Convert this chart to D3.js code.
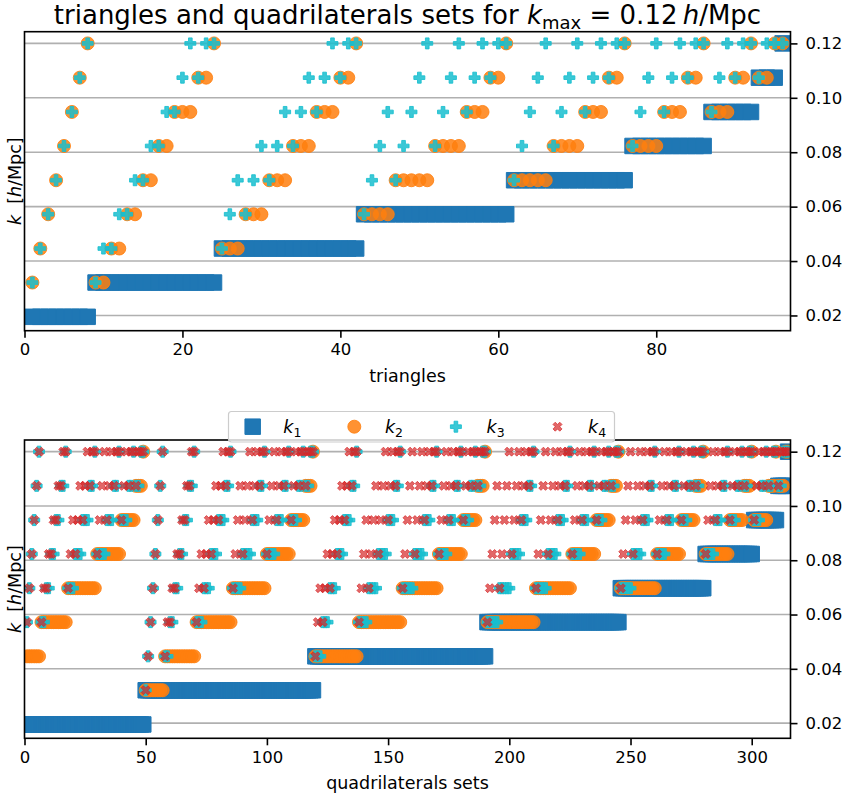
<!DOCTYPE html>
<html lang="en">
<head>
<meta charset="UTF-8">
<title>triangles and quadrilaterals sets</title>
<script src="https://d3js.org/d3.v7.min.js"></script>
<style>
  body { margin: 0; background: #fff; }
  svg { display: block; font-family: "DejaVu Sans", sans-serif; }
</style>
</head>
<body>
<svg id="chart" width="843" height="793"></svg>
<script>
// k bins (h/Mpc), series below hold bin indices into this list
const kBins = [0.0195, 0.0321, 0.0446, 0.0572, 0.0697, 0.0823, 0.0948, 0.1074, 0.1200];

const yTicks = [0.02, 0.04, 0.06, 0.08, 0.10, 0.12];
const triTicks = [0, 20, 40, 60, 80];
const quadTicks = [0, 50, 100, 150, 200, 250, 300];

// triangles (k1 <= k2 <= k3)
const triK1 = [
  0,0,0,0,0, 0,0,0,0,
  1,1,1,1,1, 1,1,1,1,1, 1,1,1,1,1, 1,
  2,2,2,2,2, 2,2,2,2,2, 2,2,2,2,2, 2,2,2,
  3,3,3,3,3, 3,3,3,3,3, 3,3,3,3,3, 3,3,3,3,
  4,4,4,4,4, 4,4,4,4,4, 4,4,4,4,4,
  5,5,5,5,5, 5,5,5,5,5,
  6,6,6,6,6,6,
  7,7,7,
  8
];
const triK2 = [
  0,1,2,3,4,5,6,7,8,
  1,1,2,2,3,3,4,4,5,5,6,6,6,7,7,8,
  2,2,2,3,3,3,4,4,4,5,5,5,6,6,6,7,7,8,
  3,3,3,3,4,4,4,4,4,5,5,5,5,6,6,6,7,7,8,
  4,4,4,4,4,5,5,5,5,6,6,6,7,7,8,
  5,5,5,5,6,6,6,7,7,8,
  6,6,6,7,7,8,
  7,7,8,
  8
];
const triK3 = [
  0,1,2,3,4,5,6,7,8,
  1,2,2,3,3,4,4,5,5,6,6,7,8,7,8,8,
  2,3,4,3,4,5,4,5,6,5,6,7,6,7,8,7,8,8,
  3,4,5,6,4,5,6,7,8,5,6,7,8,6,7,8,7,8,8,
  4,5,6,7,8,5,6,7,8,6,7,8,7,8,8,
  5,6,7,8,6,7,8,7,8,8,
  6,7,8,7,8,8,
  7,8,8,
  8
];

// quadrilaterals sets (k1 <= k2 <= k3 <= k4)
const quadK1 = [
  0,0,0,0,0,0,0,0,0,0, 0,0,0,0,0,0,0,0,0,0, 0,0,0,0,0,0,0,0,0,0, 0,0,0,0,0,0,0,0,0,0, 0,0,0,0,0,0,0,0,0,0,
  1,1,1,1,1,1,1,1,1,1, 1,1,1,1,1,1,1,1,1,1, 1,1,1,1,1,1,1,1,1,1, 1,1,1,1,1,1,1,1,1,1, 1,1,1,1,1,1,1,1,1,1, 1,1,1,1,1,1,1,1,1,1, 1,1,1,1,1,1,1,1,1,1,
  2,2,2,2,2,2,2,2,2,2, 2,2,2,2,2,2,2,2,2,2, 2,2,2,2,2,2,2,2,2,2, 2,2,2,2,2,2,2,2,2,2, 2,2,2,2,2,2,2,2,2,2, 2,2,2,2,2,2,2,2,2,2, 2,2,2,2,2,2,2,2,2,2, 2,
  3,3,3,3,3,3,3,3,3,3, 3,3,3,3,3,3,3,3,3,3, 3,3,3,3,3,3,3,3,3,3, 3,3,3,3,3,3,3,3,3,3, 3,3,3,3,3,3,3,3,3,3, 3,3,3,3,3,
  4,4,4,4,4,4,4,4,4,4, 4,4,4,4,4,4,4,4,4,4, 4,4,4,4,4,4,4,4,4,4, 4,4,4,4,4,
  5,5,5,5,5,5,5,5,5,5, 5,5,5,5,5,5,5,5,5,5,
  6,6,6,6,6,6,6,6,6,6,
  7,7,7,7,
  8
];
const quadK2 = [
  2,2,2,2,2,2,2, 3,3,3,3,3,3,3,3,3,3,3, 4,4,4,4,4,4,4,4,4,4,4,4, 5,5,5,5,5,5,5,5,5,5, 6,6,6,6,6,6, 7,7,7, 8,
  1,1,1,1,1,1,1,1, 2,2,2,2,2,2,2,2,2,2,2,2,2, 3,3,3,3,3,3,3,3,3,3,3,3,3,3,3, 4,4,4,4,4,4,4,4,4,4,4,4,4,4, 5,5,5,5,5,5,5,5,5,5, 6,6,6,6,6,6, 7,7,7, 8,
  2,2,2,2,2,2,2,2,2,2,2,2,2,2,2,2,2,2, 3,3,3,3,3,3,3,3,3,3,3,3,3,3,3,3,3,3, 4,4,4,4,4,4,4,4,4,4,4,4,4,4,4, 5,5,5,5,5,5,5,5,5,5, 6,6,6,6,6,6, 7,7,7, 8,
  3,3,3,3,3,3,3,3,3,3,3,3,3,3,3,3,3,3,3,3, 4,4,4,4,4,4,4,4,4,4,4,4,4,4,4, 5,5,5,5,5,5,5,5,5,5, 6,6,6,6,6,6, 7,7,7, 8,
  4,4,4,4,4,4,4,4,4,4,4,4,4,4,4, 5,5,5,5,5,5,5,5,5,5, 6,6,6,6,6,6, 7,7,7, 8,
  5,5,5,5,5,5,5,5,5,5, 6,6,6,6,6,6, 7,7,7, 8,
  6,6,6,6,6,6, 7,7,7, 8,
  7,7,7, 8,
  8
];
const quadK3 = [
  2,3,4,5,6,7,8, 3,3,4,4,5,5,6,6,7,7,8, 4,4,4,5,5,5,6,6,6,7,7,8, 5,5,5,5,6,6,6,7,7,8, 6,6,6,7,7,8, 7,7,8, 8,
  1,2,3,4,5,6,7,8, 2,2,3,3,4,4,5,5,6,6,7,7,8, 3,3,3,4,4,4,5,5,5,6,6,6,7,7,8, 4,4,4,4,5,5,5,5,6,6,6,7,7,8, 5,5,5,5,6,6,6,7,7,8, 6,6,6,7,7,8, 7,7,8, 8,
  2,2,2,3,3,3,4,4,4,5,5,5,6,6,6,7,7,8, 3,3,3,3,4,4,4,4,5,5,5,5,6,6,6,7,7,8, 4,4,4,4,4,5,5,5,5,6,6,6,7,7,8, 5,5,5,5,6,6,6,7,7,8, 6,6,6,7,7,8, 7,7,8, 8,
  3,3,3,3,3,4,4,4,4,4,5,5,5,5,6,6,6,7,7,8, 4,4,4,4,4,5,5,5,5,6,6,6,7,7,8, 5,5,5,5,6,6,6,7,7,8, 6,6,6,7,7,8, 7,7,8, 8,
  4,4,4,4,4,5,5,5,5,6,6,6,7,7,8, 5,5,5,5,6,6,6,7,7,8, 6,6,6,7,7,8, 7,7,8, 8,
  5,5,5,5,6,6,6,7,7,8, 6,6,6,7,7,8, 7,7,8, 8,
  6,6,6,7,7,8, 7,7,8, 8,
  7,7,8, 8,
  8
];
const quadK4 = [
  2,3,4,5,6,7,8, 3,4,4,5,5,6,6,7,7,8,8, 4,5,6,5,6,7,6,7,8,7,8,8, 5,6,7,8,6,7,8,7,8,8, 6,7,8,7,8,8, 7,8,8, 8,
  1,2,3,4,5,6,7,8, 2,3,3,4,4,5,5,6,6,7,7,8,8, 3,4,5,4,5,6,5,6,7,6,7,8,7,8,8, 4,5,6,7,5,6,7,8,6,7,8,7,8,8, 5,6,7,8,6,7,8,7,8,8, 6,7,8,7,8,8, 7,8,8, 8,
  2,3,4,3,4,5,4,5,6,5,6,7,6,7,8,7,8,8, 3,4,5,6,4,5,6,7,5,6,7,8,6,7,8,7,8,8, 4,5,6,7,8,5,6,7,8,6,7,8,7,8,8, 5,6,7,8,6,7,8,7,8,8, 6,7,8,7,8,8, 7,8,8, 8,
  3,4,5,6,7,4,5,6,7,8,5,6,7,8,6,7,8,7,8,8, 4,5,6,7,8,5,6,7,8,6,7,8,7,8,8, 5,6,7,8,6,7,8,7,8,8, 6,7,8,7,8,8, 7,8,8, 8,
  4,5,6,7,8,5,6,7,8,6,7,8,7,8,8, 5,6,7,8,6,7,8,7,8,8, 6,7,8,7,8,8, 7,8,8, 8,
  5,6,7,8,6,7,8,7,8,8, 6,7,8,7,8,8, 7,8,8, 8,
  6,7,8,7,8,8, 7,8,8, 8,
  7,8,8, 8,
  8
];

const svg = d3.select("#chart");

const shapes = {
  square: s => `M${-s/2},${-s/2}h${s}v${s}h${-s}Z`,
  circle: s => d3.symbol(d3.symbolCircle, Math.PI * s * s / 4)(),
  plus: s => {
    const h = s / 2, t = s / 6;
    return `M${-t},${-h}H${t}V${-t}H${h}V${t}H${t}V${h}H${-t}V${t}H${-h}V${-t}H${-t}Z`;
  },
  cross: s => {
    const h = s / 2, a = s / 4;
    return `M0,${-a}L${h-a},${-h}L${h},${-h+a}L${a},0L${h},${h-a}L${h-a},${h}L0,${a}` +
           `L${-h+a},${h}L${-h},${h-a}L${-a},0L${-h},${-h+a}L${-h+a},${-h}Z`;
  }
};

const series = [
  { label: "1", shape: "square", size: 15.5, color: "#1f77b4", alpha: 1 },
  { label: "2", shape: "circle", size: 13, color: "#ff7f0e", alpha: 0.85 },
  { label: "3", shape: "plus", size: 11, color: "#17becf", alpha: 0.85 },
  { label: "4", shape: "cross", size: 9, color: "#d62728", alpha: 0.7 }
];

function drawPanel(cfg) {
  const x = d3.scaleLinear().domain([0, cfg.xmax]).range([cfg.left, cfg.right]);
  const y = d3.scaleLinear().domain([0.0144, 0.1243]).range([cfg.bottom, cfg.top]);

  svg.append("clipPath").attr("id", "clip-" + cfg.id)
    .append("rect")
    .attr("x", cfg.left).attr("y", cfg.top)
    .attr("width", cfg.right - cfg.left).attr("height", cfg.bottom - cfg.top);

  svg.append("g")
    .selectAll("line")
    .data(yTicks)
    .join("line")
    .attr("x1", cfg.left).attr("x2", cfg.right)
    .attr("y1", d => y(d)).attr("y2", d => y(d))
    .attr("stroke", "#b0b0b0")
    .attr("stroke-width", 1.6);

  const plot = svg.append("g").attr("clip-path", `url(#clip-${cfg.id})`);
  cfg.data.forEach((bins, si) => {
    const st = series[si];
    // like matplotlib, markers centred on the frame edge are not drawn
    const pts = bins.map((b, i) => ({ i, b })).filter(p => x(p.i) > cfg.left + 0.5);
    plot.append("g")
      .selectAll("path")
      .data(pts)
      .join("path")
      .attr("d", shapes[st.shape](st.size))
      .attr("transform", p => `translate(${x(p.i)},${y(kBins[p.b])})`)
      .attr("fill", st.color)
      .attr("fill-opacity", st.alpha)
      .attr("stroke", st.color)
      .attr("stroke-opacity", st.alpha)
      .attr("stroke-width", 1);
  });

  svg.append("rect")
    .attr("x", cfg.left).attr("y", cfg.top)
    .attr("width", cfg.right - cfg.left).attr("height", cfg.bottom - cfg.top)
    .attr("fill", "none").attr("stroke", "#000").attr("stroke-width", 1.6);

  const xAxis = svg.append("g")
    .attr("transform", `translate(0,${cfg.bottom})`)
    .call(d3.axisBottom(x).tickValues(cfg.ticks).tickSize(7).tickPadding(6));
  const yAxis = svg.append("g")
    .attr("transform", `translate(${cfg.right},0)`)
    .call(d3.axisRight(y).tickValues(yTicks).tickFormat(d3.format(".2f")).tickSize(7).tickPadding(8));
  [xAxis, yAxis].forEach(a => {
    a.select(".domain").remove();
    a.selectAll("line").attr("stroke", "#000").attr("stroke-width", 1.6);
    a.selectAll("text").attr("font-size", 16.5).attr("font-family", "DejaVu Sans").attr("fill", "#000");
  });

  svg.append("text")
    .attr("x", (cfg.left + cfg.right) / 2).attr("y", cfg.bottom + 51)
    .attr("text-anchor", "middle").attr("font-size", 17.5)
    .text(cfg.xlabel);

  const yl = svg.append("text")
    .attr("transform", `translate(21,${(cfg.top + cfg.bottom) / 2}) rotate(-90)`)
    .attr("text-anchor", "middle").attr("font-size", 17.5)
    .style("white-space", "pre");
  yl.append("tspan").attr("font-style", "italic").text("k");
  yl.append("tspan").text("  [");
  yl.append("tspan").attr("font-style", "italic").text("h");
  yl.append("tspan").text("/Mpc]");
}

drawPanel({
  id: "tri", left: 24.5, right: 790.5, top: 31.7, bottom: 330.7,
  xmax: 97, ticks: triTicks, xlabel: "triangles",
  data: [triK1, triK2, triK3]
});
drawPanel({
  id: "quad", left: 24.5, right: 790.5, top: 440, bottom: 738.3,
  xmax: 316, ticks: quadTicks, xlabel: "quadrilaterals sets",
  data: [quadK1, quadK2, quadK3, quadK4]
});

// title
const title = svg.append("text")
  .attr("x", 407.5).attr("y", 24)
  .attr("text-anchor", "middle").attr("font-size", 26)
  .style("white-space", "pre");
title.append("tspan").text("triangles and quadrilaterals sets for ");
title.append("tspan").attr("font-style", "italic").text("k");
title.append("tspan").attr("font-size", 18).attr("dy", 4.5).text("max");
title.append("tspan").attr("dy", -4.5).text(" = 0.12\u2009");
title.append("tspan").attr("font-style", "italic").text("h");
title.append("tspan").text("/Mpc");

// legend
const legend = svg.append("g");
legend.append("rect")
  .attr("x", 228.5).attr("y", 411.5).attr("width", 386).attr("height", 30.5)
  .attr("rx", 3).attr("fill", "#fff").attr("fill-opacity", 0.8)
  .attr("stroke", "#ccc").attr("stroke-width", 1.2);
const legX = d3.scaleLinear().domain([0, 1]).range([252.7, 354.3]);
series.forEach((st, i) => {
  legend.append("path")
    .attr("d", shapes[st.shape](st.size))
    .attr("transform", `translate(${legX(i)},426.7)`)
    .attr("fill", st.color).attr("fill-opacity", st.alpha)
    .attr("stroke", st.color).attr("stroke-opacity", st.alpha);
  const t = legend.append("text")
    .attr("x", legX(i) + 30.6).attr("y", 432.5).attr("font-size", 17.5);
  t.append("tspan").attr("font-style", "italic").text("k");
  t.append("tspan").attr("font-size", 12.5).attr("dy", 4).text(st.label);
});
</script>
</body>
</html>
